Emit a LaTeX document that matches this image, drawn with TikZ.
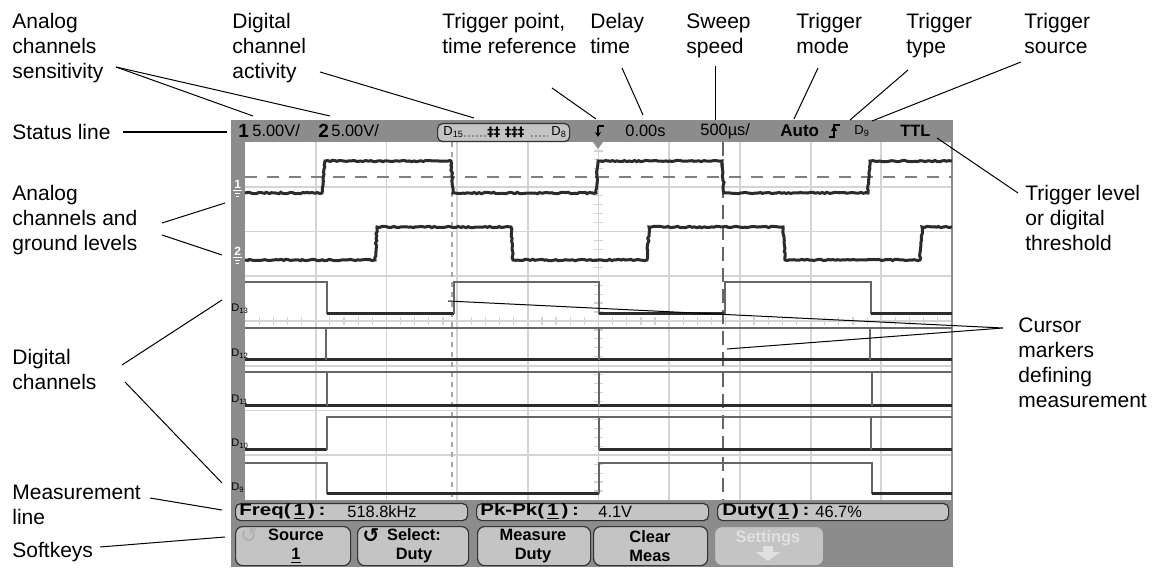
\documentclass[tikz,border=0pt]{standalone}
\usepackage{fontspec}
\setmainfont{Liberation Sans}
\newfontfamily\symfont{DejaVu Sans}
\usetikzlibrary{arrows.meta, positioning, decorations.pathmorphing}

\definecolor{scrgray}{HTML}{8C8C8C}
\definecolor{keyfill}{HTML}{C4C4C4}
\definecolor{gridgray}{HTML}{D4D4D4}
\definecolor{tracedark}{HTML}{2B2B2B}
\definecolor{hilite}{HTML}{666666}

\newcommand{\lblfont}{\fontsize{10.5}{12.5}\selectfont}
\newcommand{\scrfont}{\fontsize{8.2}{9}\selectfont}
\newcommand{\keyfont}{\fontsize{8.2}{9.5}\selectfont\bfseries}
\newcommand{\measname}[1]{\scalebox{1.25}[1]{\bfseries #1(\hspace{1.2pt}\underline{1}\hspace{1.2pt})\hspace{1.5pt}:}}

\tikzset{
  lbl/.style={font=\lblfont, align=left, inner sep=0pt, anchor=north west},
  leader/.style={draw=black, line width=0.5pt},
  gridln/.style={draw=gridgray, line width=0.9pt},
  atrace/.style={draw=tracedark, line width=1.5pt, decorate,
    decoration={random steps, segment length=1.2pt, amplitude=0.35pt}},
  dhigh/.style={draw=hilite, line width=0.8pt},
  dlow/.style={draw=tracedark, line width=1.5pt},
  scrtxt/.style={font=\scrfont, inner sep=0pt, anchor=west},
  dlbl/.style={font=\fontsize{5.5}{6}\selectfont, inner sep=0pt, anchor=west},
  measbox/.style={draw=black!80, fill=keyfill, rounded corners=2.5pt, line width=0.6pt,
    anchor=north west, minimum height=8.5pt, inner sep=0pt},
  softkey/.style={draw=black!80, fill=keyfill, rounded corners=3.5pt, line width=0.6pt,
    anchor=north west, minimum height=19.5pt, inner sep=0pt},
  keytxt/.style={font=\keyfont, align=center, inner sep=0pt},
}

\begin{document}
\begin{tikzpicture}[x=0.5pt, y=-0.5pt, >=Stealth]
  \useasboundingbox (0, 0) rectangle (1162, 571);

  \fill[scrgray] (231, 120) rectangle (953, 567);
  \fill[white] (245, 142) rectangle (952, 500);
  \foreach \i in {1,...,9}
    \draw[gridln] ({245+70.7*\i}, 142) -- ({245+70.7*\i}, 500);
  \foreach \j in {1,...,7}
    \draw[gridln] (245, {142+44.75*\j}) -- (952, {142+44.75*\j});
  \foreach \i in {1,...,49}
    \draw[gridln, line width=0.6pt] ({245+14.14*\i}, 317) -- ({245+14.14*\i}, 325);
  \foreach \j in {1,...,39}
    \draw[gridln, line width=0.6pt] (594, {142+8.95*\j}) -- (603, {142+8.95*\j});
  \draw[black!45, line width=0.8pt] (952, 142) -- (952, 500);

  \draw[black!50, line width=0.8pt, dash pattern=on 6pt off 5pt] (245, 177) -- (952, 177);
  \draw[black!35, line width=1.4pt, dash pattern=on 2.5pt off 2.5pt] (452, 142) -- (452, 500);
  \draw[black!60, line width=0.6pt, dash pattern=on 7pt off 3.5pt] (723, 142) -- (723, 500);

  \draw[atrace] (245, 193) -- (322, 193) -- (325, 161) -- (451, 161) -- (453, 193) -- (596, 193)
    -- (598, 161) -- (722, 161) -- (724, 193) -- (868, 193) -- (870, 161) -- (952, 161);
  \draw[atrace] (245, 260) -- (375, 260) -- (377, 227) -- (511, 227) -- (513, 260) -- (647, 260)
    -- (649, 227) -- (783, 227) -- (785, 260) -- (920, 260) -- (922, 227) -- (952, 227);

  \draw[dhigh] (245, 282) -- (327, 282) -- (327, 314);
  \draw[dlow] (327, 314) -- (454, 314);
  \draw[dhigh] (454, 314) -- (454, 282) -- (599, 282) -- (599, 314);
  \draw[dlow] (599, 314) -- (725, 314);
  \draw[dhigh] (725, 314) -- (725, 282) -- (871, 282) -- (871, 314);
  \draw[dlow] (871, 314) -- (952, 314);

  \draw[dhigh] (245, 328) -- (952, 328);
  \draw[dlow] (245, 360) -- (952, 360);
  \foreach \x in {326, 599, 870}
    \draw[dhigh] (\x, 328) -- (\x, 360);

  \draw[dhigh] (245, 372) -- (952, 372);
  \draw[dlow] (245, 406) -- (952, 406);
  \foreach \x in {327, 599, 872}
    \draw[dhigh] (\x, 372) -- (\x, 406);

  \draw[dlow] (245, 450) -- (327, 450);
  \draw[dhigh] (327, 450) -- (327, 417) -- (952, 417);
  \draw[dlow] (599, 450) -- (952, 450);
  \foreach \x in {599, 871}
    \draw[dhigh] (\x, 417) -- (\x, 450);

  \draw[dhigh] (245, 463) -- (327, 463) -- (327, 494);
  \draw[dlow] (327, 494) -- (599, 494);
  \draw[dhigh] (599, 494) -- (599, 463) -- (872, 463) -- (872, 494);
  \draw[dlow] (872, 494) -- (952, 494);

  \node[scrtxt, text=white, font=\fontsize{6}{6}\selectfont\bfseries] (gnd1) at (234, 184) {1};
  \draw[white, line width=0.5pt] (233, 191) -- (242, 191) (235, 194) -- (240, 194) (236, 197) -- (239, 197);
  \node[scrtxt, text=white, font=\fontsize{6}{6}\selectfont\bfseries] (gnd2) at (234, 251) {2};
  \draw[white, line width=0.5pt] (233, 258) -- (242, 258) (235, 261) -- (240, 261) (236, 264) -- (239, 264);

  \node[dlbl] (d13) at (231, 309) {D\textsubscript{13}};
  \node[dlbl] (d12) at (231, 354) {D\textsubscript{12}};
  \node[dlbl] (d11) at (231, 400) {D\textsubscript{11}};
  \node[dlbl] (d10) at (231, 444) {D\textsubscript{10}};
  \node[dlbl] (d9) at (231, 488) {D\textsubscript{9}};

  \node[scrtxt, font=\fontsize{9.5}{9.5}\selectfont\bfseries] (ch1num) at (238, 131) {1};
  \node[scrtxt] (ch1sens) at (252, 131) {5.00V/};
  \node[scrtxt, font=\fontsize{9.5}{9.5}\selectfont\bfseries] (ch2num) at (318, 131) {2};
  \node[scrtxt] (ch2sens) at (331, 131) {5.00V/};

  \node[measbox, minimum width=66pt, minimum height=9pt] (digact) at (437, 123) {};
  \node[dlbl, font=\fontsize{6.5}{7}\selectfont] (d15) at (443, 132) {D\textsubscript{15}};
  \draw[black!45, line width=1pt, dash pattern=on 1pt off 1pt] (464, 136) -- (486, 136);
  \node[scrtxt, font=\symfont\fontsize{6.5}{7}\selectfont\bfseries] (actbits) at (487, 132) {‡‡ ‡‡‡};
  \draw[black!45, line width=1pt, dash pattern=on 1pt off 1pt] (531, 136) -- (548, 136);
  \node[dlbl, font=\fontsize{6.5}{7}\selectfont] (d8) at (551, 132) {D\textsubscript{8}};

  \draw[line width=0.8pt] (604, 126) -- (598, 126);
  \draw[-{Stealth[length=2.5pt, width=3pt]}, line width=0.8pt] (598, 126) -- (598, 137);
  \fill[black!45] (593, 142) -- (603, 142) -- (598, 149) -- cycle;

  \node[scrtxt] (delay) at (625, 131) {0.00s};
  \node[scrtxt] (sweep) at (700, 131) {500µs/};
  \node[scrtxt, font=\fontsize{8.5}{9}\selectfont\bfseries] (mode) at (780, 131) {Auto};
  \draw[line width=0.7pt] (829, 137) -- (834, 137) -- (834, 125) -- (840, 125);
  \fill (834, 125) -- (831, 131) -- (837, 131) -- cycle;
  \node[dlbl, font=\fontsize{6.5}{7}\selectfont] (d9src) at (854, 131) {D\textsubscript{9}};
  \node[scrtxt, font=\fontsize{8.2}{9}\selectfont\bfseries] (ttl) at (900, 131) {TTL};

  \node[measbox, minimum width=116pt] (freqbox) at (235, 503) {};
  \node[scrtxt] (freqname) at (239, 511.5) {\measname{Freq}};
  \node[scrtxt] (freqval) at (347, 511.5) {518.8kHz};
  \node[measbox, minimum width=116pt] (pkbox) at (476, 503) {};
  \node[scrtxt] (pkname) at (480, 511.5) {\measname{Pk-Pk}};
  \node[scrtxt] (pkval) at (598, 511.5) {4.1V};
  \node[measbox, minimum width=115.5pt] (dutybox) at (717, 503) {};
  \node[scrtxt] (dutyname) at (722, 511.5) {\measname{Duty}};
  \node[scrtxt] (dutyval) at (815, 511.5) {46.7\%};

  \node[softkey, minimum width=57.5pt] (keySource) at (235, 526) {};
  \node[keytxt] (txtSource) at (296, 546) {Source\\\underline{1}};
  \node[font=\symfont\fontsize{10}{10}\selectfont\bfseries, text=black!30, inner sep=0pt] (icoSource) at (249, 536) {↺};
  \node[softkey, minimum width=55.5pt] (keySelect) at (357, 526) {};
  \node[keytxt] (txtSelect) at (414, 546) {Select:\\Duty};
  \node[font=\symfont\fontsize{10}{10}\selectfont\bfseries, inner sep=0pt] (icoSelect) at (371, 536) {↺};
  \node[softkey, minimum width=56.5pt] (keyMeasure) at (477, 526) {};
  \node[keytxt] (txtMeasure) at (533, 546) {Measure\\Duty};
  \node[softkey, minimum width=57pt] (keyClear) at (593, 526) {};
  \node[keytxt] (txtClear) at (650, 546) {Clear\\Meas};
  \node[softkey, minimum width=54.5pt, draw=black!45] (keySettings) at (714, 526) {};
  \node[keytxt, text=black!12, anchor=north] (txtSettings) at (768, 530) {Settings};
  \fill[black!12] (763, 546) -- (773, 546) -- (773, 552) -- (780, 552) -- (768, 561) -- (756, 552) -- (763, 552) -- cycle;

  \node[lbl] (lblSens) at (12, 13) {Analog\\channels\\sensitivity};
  \node[lbl] (lblDigAct) at (232, 13) {Digital\\channel\\activity};
  \node[lbl] (lblTrigPt) at (442, 13) {Trigger point,\\time reference};
  \node[lbl] (lblDelay) at (590, 13) {Delay\\time};
  \node[lbl] (lblSweep) at (686, 13) {Sweep\\speed};
  \node[lbl] (lblMode) at (796, 13) {Trigger\\mode};
  \node[lbl] (lblType) at (906, 13) {Trigger\\type};
  \node[lbl] (lblSource) at (1024, 13) {Trigger\\source};
  \node[lbl, anchor=west] (lblStatus) at (12, 132) {Status line};
  \node[lbl] (lblAnalog) at (12, 185) {Analog\\channels and\\ground levels};
  \node[lbl] (lblDigital) at (12, 349) {Digital\\channels};
  \node[lbl] (lblMeas) at (12, 485) {Measurement\\line};
  \node[lbl] (lblSoft) at (12, 542) {Softkeys};
  \node[lbl] (lblLevel) at (1025, 185) {Trigger level\\or digital\\threshold};
  \node[lbl] (lblCursor) at (1018, 317) {Cursor\\markers\\defining\\measurement};

  \coordinate (sensFork) at (116, 67);
  \coordinate (sensOne) at (253, 116);
  \coordinate (sensTwo) at (330, 116);
  \coordinate (digActFoot) at (320, 72);
  \coordinate (digActEnd) at (474, 118);
  \coordinate (trigFoot) at (552, 88);
  \coordinate (trigEnd) at (596, 119);
  \coordinate (delayFoot) at (622, 68);
  \coordinate (delayEnd) at (643, 115);
  \coordinate (sweepFoot) at (715, 66);
  \coordinate (sweepEnd) at (715, 120);
  \coordinate (modeFoot) at (818, 68);
  \coordinate (modeEnd) at (794, 119);
  \coordinate (typeFoot) at (908, 70);
  \coordinate (typeEnd) at (850, 120);
  \coordinate (sourceFoot) at (1021, 62);
  \coordinate (sourceEnd) at (872, 121);
  \coordinate (ttlEnd) at (937, 138);
  \coordinate (levelFoot) at (1018, 193);
  \coordinate (statusEnd) at (227, 132);
  \coordinate (analogFootA) at (162, 223);
  \coordinate (analogFootB) at (162, 235);
  \coordinate (gndOne) at (225, 203);
  \coordinate (gndTwo) at (222, 255);
  \coordinate (digFootA) at (122, 365);
  \coordinate (digFootB) at (125, 382);
  \coordinate (digTop) at (222, 300);
  \coordinate (digBottom) at (222, 483);
  \coordinate (measFoot) at (150, 498);
  \coordinate (measEnd) at (222, 510);
  \coordinate (softFoot) at (100, 547);
  \coordinate (softEnd) at (225, 537);
  \coordinate (cursorApex) at (1003, 328);
  \coordinate (cursorOne) at (448, 301);
  \coordinate (cursorTwo) at (727, 349);

  \draw[leader] (sensFork) -- (sensOne);
  \draw[leader] (sensFork) -- (sensTwo);
  \draw[leader] (digActFoot) -- (digActEnd);
  \draw[leader] (trigFoot) -- (trigEnd);
  \draw[leader] (delayFoot) -- (delayEnd);
  \draw[leader] (sweepFoot) -- (sweepEnd);
  \draw[leader] (modeFoot) -- (modeEnd);
  \draw[leader] (typeFoot) -- (typeEnd);
  \draw[leader] (sourceFoot) -- (sourceEnd);
  \draw[leader] (ttlEnd) -- (levelFoot);
  \draw[leader, line width=1.1pt] (lblStatus.east) ++(12, 0) -- (statusEnd);
  \draw[leader] (analogFootA) -- (gndOne);
  \draw[leader] (analogFootB) -- (gndTwo);
  \draw[leader] (digFootA) -- (digTop);
  \draw[leader] (digFootB) -- (digBottom);
  \draw[leader] (measFoot) -- (measEnd);
  \draw[leader] (softFoot) -- (softEnd);
  \draw[leader] (cursorOne) -- (cursorApex) -- (cursorTwo);
\end{tikzpicture}
\end{document}
